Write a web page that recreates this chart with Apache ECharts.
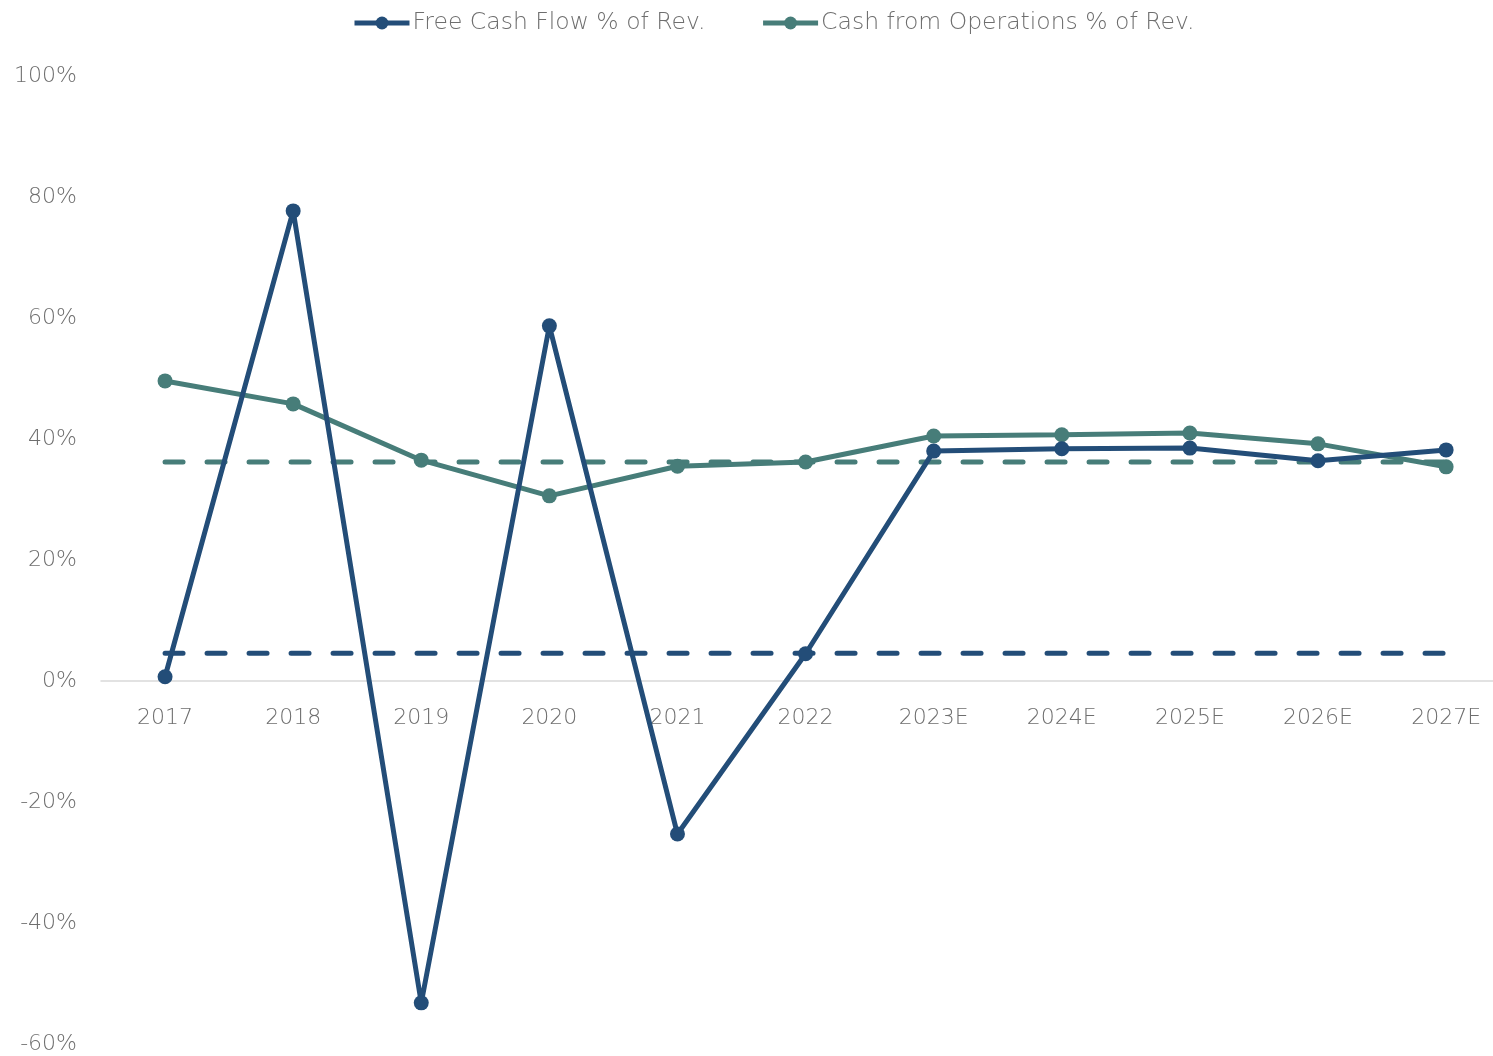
<!DOCTYPE html>
<html>
<head>
<meta charset="utf-8">
<script src="https://cdn.jsdelivr.net/npm/echarts@6/dist/echarts.min.js"></script>
<style>
  html, body { margin: 0; padding: 0; background: #fff; }
  #chart { width: 1493px; height: 1056px; }
</style>
</head>
<body>
<div id="chart"></div>
<script>
// Categories and values (percent of revenue)
const years = ['2017', '2018', '2019', '2020', '2021', '2022', '2023E', '2024E', '2025E', '2026E', '2027E']
const fcfPct = [0.7, 77.7, -53.2, 58.7, -25.3, 4.5, 38.0, 38.4, 38.5, 36.4, 38.2]
const cfoPct = [49.6, 45.8, 36.5, 30.6, 35.5, 36.2, 40.5, 40.7, 41.0, 39.2, 35.4]
const fcfAvg = [4.6, 4.6, 4.6, 4.6, 4.6, 4.6, 4.6, 4.6, 4.6, 4.6, 4.6]
const cfoAvg = [36.2, 36.2, 36.2, 36.2, 36.2, 36.2, 36.2, 36.2, 36.2, 36.2, 36.2]
const yTicks = { min: -60, max: 100, step: 20 }

const blue = '#234d78'
const teal = '#477d79'
const textColor = '#6e6e6e'
const font = 'DejaVu Sans'

const pairs = arr => arr.map((v, i) => [i, v])

const chart = echarts.init(document.getElementById('chart'))

const dashed = (name, data, color) => ({
  name,
  type: 'line',
  data: pairs(data),
  symbol: 'none',
  silent: true,
  lineStyle: { color, width: 5, type: [18, 24], cap: 'round' },
  z: 2
})

const solid = (name, data, color, z) => ({
  name,
  type: 'line',
  data: pairs(data),
  symbol: 'circle',
  symbolSize: 15,
  itemStyle: { color },
  lineStyle: { color, width: 5 },
  z
})

chart.setOption({
  animation: false,
  backgroundColor: '#fff',
  legend: {
    top: 6,
    left: 347,
    itemWidth: 55,
    itemHeight: 16,
    itemGap: 55,
    data: ['Free Cash Flow % of Rev.', 'Cash from Operations % of Rev.'],
    lineStyle: { width: 5 },
    textStyle: { color: textColor, fontFamily: font, fontWeight: 200, fontSize: 23.5, padding: [0, 0, 0, -2] }
  },
  grid: { left: 101, right: 0, top: 76, bottom: 12, containLabel: false, outerBoundsMode: 'none' },
  xAxis: {
    type: 'value',
    min: -0.5,
    max: 10.366,
    interval: 0.5,
    position: 'bottom',
    offset: -363,
    splitLine: { show: false },
    axisTick: { show: false },
    axisLine: { show: true, onZero: false, lineStyle: { color: '#d9d9d9', width: 1.5 } },
    axisLabel: {
      color: textColor,
      fontFamily: font,
      fontWeight: 200,
      fontSize: 22,
      margin: 26,
      showMaxLabel: false,
      formatter: v => (Number.isInteger(v) && years[v] !== undefined) ? years[v] : ''
    }
  },
  yAxis: {
    type: 'value',
    min: yTicks.min,
    max: yTicks.max,
    interval: yTicks.step,
    splitLine: { show: false },
    axisTick: { show: false },
    axisLine: { show: false },
    axisLabel: {
      color: textColor,
      fontFamily: font,
      fontWeight: 200,
      fontSize: 22,
      margin: 24,
      formatter: v => v + '%'
    }
  },
  series: [
    dashed('fcfAvg', fcfAvg, blue),
    dashed('cfoAvg', cfoAvg, teal),
    solid('Cash from Operations % of Rev.', cfoPct, teal, 3),
    solid('Free Cash Flow % of Rev.', fcfPct, blue, 4)
  ]
})
</script>
</body>
</html>
